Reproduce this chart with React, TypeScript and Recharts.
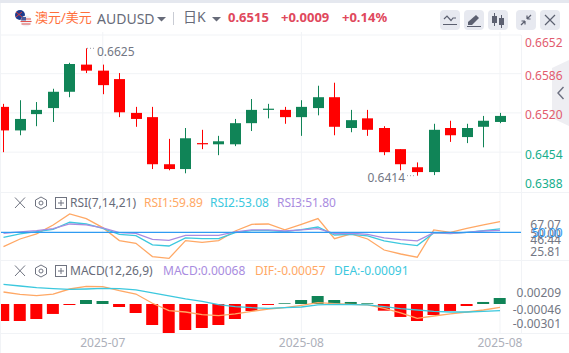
import { ComposedChart, Bar, Line, XAxis, YAxis, CartesianGrid, ReferenceLine, Cell } from "recharts";

const OPEN = [0.6528,0.6489,0.6516,0.6526,0.6553,0.6598,0.6588,0.6574,0.6518,0.6511,0.6433,0.6425,0.6468,0.6466,0.6466,0.6501,0.6523,0.6523,0.6511,0.6526,0.6544,0.6493,0.6509,0.6493,0.6458,0.6428,0.6420,0.6493,0.6478,0.6495,0.6503];
const CLOSE = [0.6489,0.6508,0.6523,0.6553,0.6599,0.6588,0.6564,0.6519,0.6508,0.6433,0.6425,0.6476,0.6466,0.6471,0.6501,0.6523,0.6525,0.6511,0.6528,0.6544,0.6495,0.6506,0.6490,0.6453,0.6433,0.6420,0.6490,0.6481,0.6493,0.6505,0.6513];
const HIGH = [0.6533,0.6539,0.6536,0.6558,0.6601,0.6625,0.6598,0.6584,0.6528,0.6528,0.6475,0.6493,0.6490,0.6480,0.6508,0.6541,0.6533,0.6528,0.6539,0.6563,0.6568,0.6523,0.6523,0.6496,0.6458,0.6436,0.6500,0.6505,0.6500,0.6513,0.6518];
const LOW = [0.6453,0.6481,0.6496,0.6503,0.6544,0.6584,0.6549,0.6511,0.6495,0.6425,0.6423,0.6418,0.6458,0.6448,0.6463,0.6488,0.6509,0.6500,0.6480,0.6514,0.6481,0.6486,0.6480,0.6448,0.6423,0.6414,0.6415,0.6470,0.6468,0.6461,0.6501];

const RSI1 = [36.7,43.8,48.5,56.8,67.07,62.7,54.3,42.3,39.8,27.5,25.81,42.3,40.7,42.3,51.2,57.4,57.7,52.2,57.4,62.7,44.1,48.5,43.8,33.6,29.9,26.9,52.2,50,53.7,56.8,59.89];
const RSI2 = [45.4,48.5,50.6,52.8,59.3,57.7,53.7,48.1,46.9,38.3,37.3,44.8,44.1,44.1,49.7,51.5,51.5,50.6,52.5,54.9,47.5,48.1,46.6,42,39.5,37.7,49.4,48.8,50,51.5,53.08];
const RSI3 = [49.1,50.3,51.5,53.4,57.7,56.8,54,49.7,49.1,43.5,42.6,47.2,47.2,47.2,50.3,52.2,52.2,51.2,52.2,53.4,48.8,49.1,48.1,44.8,43.2,42,49.7,49.1,50,51.2,51.8];

const DIF = [0.00136,0.0011,0.00095,0.00113,0.0017,0.002,0.00197,0.00151,0.00113,0.00008,-0.00076,-0.00091,-0.00121,-0.00132,-0.00113,-0.00083,-0.00057,-0.00042,-0.00015,0.00015,0.00004,-0.00004,-0.00011,-0.00049,-0.00102,-0.00163,-0.00136,-0.00113,-0.00091,-0.00068,-0.00038];
const DEA = [0.00223,0.00204,0.00185,0.00174,0.00166,0.0017,0.00178,0.00174,0.00159,0.00125,0.00091,0.00057,0.0003,-0.00008,-0.0003,-0.00042,-0.00049,-0.00042,-0.00034,-0.00011,-0.00004,-0.00008,-0.00011,-0.0003,-0.00053,-0.00068,-0.00083,-0.00091,-0.00091,-0.00083,-0.00076];
const MACD = [-0.00193,-0.00193,-0.0017,-0.00113,-0.00011,0.00045,0.00034,-0.00034,-0.00102,-0.00238,-0.00329,-0.00295,-0.00272,-0.00238,-0.0017,-0.00079,-0.00011,0.00008,0.00045,0.00091,0.00045,0.00023,0.00008,-0.00076,-0.00147,-0.00193,-0.00125,-0.00079,-0.00023,0.00023,0.00068];

const PRICE_TICKS = [0.6652,0.6586,0.652,0.6454,0.6388];
const PRICE_GRID = [0.6647,0.6583,0.6518,0.6453];
const RSI_TICKS = [67.07,50,46.44,25.81];
const MACD_TICKS = [0.00209,-0.00046,-0.00301];
const DATE_INDEX = [6,18,30];
const DATE_LABELS = ["2025-07","2025-08","2025-08"];

const PRICE_SHIFT = [10.5,4,3,2.6,-8];
const RSI_SHIFT = [11,1,3,-7];
const MACD_SHIFT = [7,1,-7];

const RED = "#ff0000";
const GREEN = "#108457";
const FONT = "'Noto Sans', 'Noto Sans CJK SC', sans-serif";
const GRID = "#f1f3f6";
const AXIS_TEXT = "#737784";
const ORANGE = "#ffa865";
const CYAN = "#3cc8de";
const PURPLE = "#a98ce0";
const LINE_W = 1.3;

const candles = OPEN.map((o, i) => ({ i, open: o, close: CLOSE[i], high: HIGH[i], low: LOW[i] }));
const rsiRows = RSI1.map((v, i) => ({ i, rsi1: v, rsi2: RSI2[i], rsi3: RSI3[i] }));
const macdRows = MACD.map((v, i) => ({ i, macd: v, dif: DIF[i], dea: DEA[i] }));

const X_DOMAIN: [number, number] = [-0.151, 31.27];
const maxHigh = Math.max(...HIGH);
const minLow = Math.min(...LOW);

// eslint-disable-next-line @typescript-eslint/no-explicit-any
function Candle({ x, y, width, height, payload }: any) {
  const { open, close, high, low } = payload;
  const k = height / (high - low);
  const cx = Math.round(x + width / 2 - 0.5);
  const top = y + (high - Math.max(open, close)) * k;
  const h = Math.max(1, Math.abs(open - close) * k);
  const color = close >= open ? GREEN : RED;
  return (
    <g>
      <rect x={cx} y={y} width={1} height={height} fill={color} />
      <rect x={cx - 5} y={top} width={11} height={h} fill={color} />
      {high === maxHigh && (
        <g>
          <line x1={cx + 1} x2={cx + 10} y1={y} y2={y} stroke="#9a9ca6" strokeDasharray="1 2" />
          <text x={cx + 11} y={y + 3} dominantBaseline="central" fontSize={12} fill={AXIS_TEXT} fontFamily={FONT}>{high.toFixed(4)}</text>
        </g>
      )}
      {low === minLow && (
        <g>
          <line x1={cx - 10} x2={cx - 1} y1={y + height} y2={y + height} stroke="#9a9ca6" strokeDasharray="1 2" />
          <text x={cx - 12} y={y + height + 2} textAnchor="end" dominantBaseline="central" fontSize={12} fill={AXIS_TEXT} fontFamily={FONT}>{low.toFixed(4)}</text>
        </g>
      )}
    </g>
  );
}

// eslint-disable-next-line @typescript-eslint/no-explicit-any
const axisTick = (shift: number[], fmt: (v: number) => string, color: (i: number) => string, right = false) => (props: any) => {
  const { y, payload, index } = props;
  return (
    <text x={right ? 560 : 524} y={y + shift[index]} textAnchor={right ? "end" : "start"} dominantBaseline="central" fontSize={12} fill={color(index)} fontFamily={FONT}>
      {fmt(payload.value)}
    </text>
  );
};

// eslint-disable-next-line @typescript-eslint/no-explicit-any
function DateTick({ x, y, payload }: any) {
  return (
    <text x={x} y={y + 1} textAnchor="middle" dominantBaseline="central" fontSize={12} fill="#adb0ba" fontFamily={FONT}>
      {DATE_LABELS[DATE_INDEX.indexOf(payload.value)]}
    </text>
  );
}

function PanelIcons({ top }: { top: number }) {
  const c = "#6f7380";
  return (
    <svg width={56} height={14} style={{ position: "absolute", left: 14, top }}>
      <path d="M1 1.5 L11 12 M11 1.5 L1 12" stroke={c} strokeWidth={1} fill="none" />
      <path d="M27 1 L32.5 4 L32.5 10 L27 13 L21.5 10 L21.5 4 Z" stroke={c} strokeWidth={1} fill="none" />
      <circle cx={27} cy={7} r={2} stroke={c} strokeWidth={1} fill="none" />
      <rect x={41.5} y={1.5} width={11} height={11} stroke={c} strokeWidth={1} fill="none" />
      <path d="M47 4 V10 M44 7 H50" stroke={c} strokeWidth={1} />
    </svg>
  );
}

function Label({ left, top, color, size = 12, weight = 400, children }: { left: number; top: number; color: string; size?: number; weight?: number; children: React.ReactNode }) {
  return (
    <span style={{ position: "absolute", left, top, color, fontSize: size, fontWeight: weight, fontFamily: FONT, lineHeight: "16px", whiteSpace: "nowrap" }}>
      {children}
    </span>
  );
}

function HeaderButton({ left, children }: { left: number; children: React.ReactNode }) {
  return (
    <div style={{ position: "absolute", left, top: 10, width: 20, height: 20, borderRadius: 4, background: "#e7e9f0" }}>
      <svg width={20} height={20}>{children}</svg>
    </div>
  );
}

function Rule({ left, top, width, height }: { left: number; top: number; width: number; height: number }) {
  return <div style={{ position: "absolute", left, top, width, height, background: GRID }} />;
}

export default function App() {
  const panel = { position: "absolute" as const, left: 1, width: 568, overflow: "hidden" };
  const gray = "#676b79";
  return (
    <div style={{ position: "absolute", left: 0, top: 0, width: 569, height: 353, background: "#fff", overflow: "hidden" }}>
      <div style={{ position: "absolute", left: 0, top: 0, width: 569, height: 3, background: "#e5e8ef" }} />
      <Rule left={0} top={3} width={1} height={350} />
      <Rule left={521} top={35} width={1} height={298} />
      <Rule left={0} top={192} width={569} height={1} />
      <Rule left={0} top={260} width={569} height={1} />
      <Rule left={0} top={333} width={569} height={1} />

      <svg width={20} height={20} style={{ position: "absolute", left: 14, top: 9 }}>
        <circle cx={6} cy={6} r={5} fill="#1d3c8f" />
        <path d="M2 3 L8 8 M8 3 L2 8" stroke="#d83a3a" strokeWidth={1} />
        <circle cx={12} cy={12} r={5.5} fill="#f0f0f4" />
        <path d="M7 10 H17 M6.5 12.5 H17.5 M7.5 15 H16.5" stroke="#e2534f" strokeWidth={1.2} />
        <path d="M8 8 H12 V11.5 H7 Z" fill="#4a5a9a" />
      </svg>
      <Label left={35} top={9} color="#ff6f3c" size={13}>澳元/美元</Label>
      <Label left={97} top={11} color={gray} size={14}>AUDUSD</Label>
      <svg width={10} height={6} style={{ position: "absolute", left: 157, top: 17 }}><path d="M0 0 H9 L4.5 4.5 Z" fill={gray} /></svg>
      <div style={{ position: "absolute", left: 173, top: 12, width: 1, height: 13, background: "#c9ccd4" }} />
      <Label left={183} top={9} color={gray} size={14}>日K</Label>
      <svg width={10} height={6} style={{ position: "absolute", left: 212, top: 17 }}><path d="M0 0 H9 L4.5 4.5 Z" fill={gray} /></svg>
      <Label left={228} top={9} color="#e0485c" size={13} weight={700}>0.6515</Label>
      <Label left={281} top={9} color="#e0485c" size={13} weight={700}>+0.0009</Label>
      <Label left={342} top={9} color="#e0485c" size={13} weight={700}>+0.14%</Label>

      <HeaderButton left={440}>
        <path d="M3 14.5 H17 M4 9 L7 6 L11 10.5 L13 8 H16" stroke="#5c6070" strokeWidth={1.2} fill="none" />
      </HeaderButton>
      <HeaderButton left={464}>
        <path d="M4 12 L12 5 L15 8 L8 15 H4 Z" fill="#5c6070" /><path d="M3 16.5 H17" stroke="#5c6070" />
      </HeaderButton>
      <HeaderButton left={488}>
        <path d="M6.5 3 V16 M13.5 5 V18" stroke="#5c6070" /><rect x={4} y={6} width={5} height={7} fill="#5c6070" /><rect x={11} y={8} width={5} height={7} fill="#5c6070" />
      </HeaderButton>
      <HeaderButton left={516}>
        <path d="M5 15 L9 11 M9 11 V14.5 M9 11 H5.5 M15 5 L11 9 M11 9 V5.5 M11 9 H14.5" stroke="#5c6070" strokeWidth={1.2} fill="none" />
      </HeaderButton>
      <HeaderButton left={540}>
        <path d="M5 5 L15 15 M15 5 L5 15" stroke="#5c6070" strokeWidth={1.2} />
      </HeaderButton>

      <svg width={17} height={70} style={{ position: "absolute", left: 552, top: 60 }}>
        <path d="M17 0 L0 8 V58 L17 66 Z" fill="#eeeef2" />
        <path d="M11.5 27 L6 33 L11.5 39" stroke="#6c7080" strokeWidth={1.4} fill="none" />
      </svg>

      <div style={{ ...panel, top: 32, height: 160 }}>
        <ComposedChart width={568} height={160} data={candles} margin={{ top: 0, right: 0, bottom: 0, left: 0 }}>
          <CartesianGrid stroke={GRID} horizontalValues={PRICE_GRID} verticalValues={DATE_INDEX} />
          <XAxis dataKey="i" type="number" domain={X_DOMAIN} ticks={DATE_INDEX} allowDataOverflow hide />
          <YAxis orientation="right" width={48} domain={[0.6387, 0.6652]} ticks={PRICE_TICKS} interval={0} allowDataOverflow axisLine={false} tickLine={false}
            tick={axisTick(PRICE_SHIFT, v => v.toFixed(4), i => (i < 3 ? "#e25b6e" : "#17ae8c"))} />
          <Bar dataKey={(d: any) => [d.low, d.high]} barSize={11} shape={Candle} isAnimationActive={false} />
        </ComposedChart>
      </div>

      <div style={{ ...panel, top: 193, height: 67 }}>
        <ComposedChart width={568} height={67} data={rsiRows} margin={{ top: 0, right: 0, bottom: 0, left: 0 }}>
          <CartesianGrid stroke={GRID} horizontal={false} verticalValues={DATE_INDEX} />
          <XAxis dataKey="i" type="number" domain={X_DOMAIN} ticks={DATE_INDEX} allowDataOverflow hide />
          <YAxis orientation="right" width={48} domain={[24.35, 86.39]} ticks={RSI_TICKS} interval={0} allowDataOverflow axisLine={false} tickLine={false}
            tick={axisTick(RSI_SHIFT, v => v.toFixed(2), () => AXIS_TEXT, true)} />
          <Line dataKey="rsi1" type="linear" stroke={ORANGE} strokeWidth={LINE_W} dot={false} isAnimationActive={false} />
          <Line dataKey="rsi2" type="linear" stroke={CYAN} strokeWidth={LINE_W} dot={false} isAnimationActive={false} />
          <Line dataKey="rsi3" type="linear" stroke={PURPLE} strokeWidth={LINE_W} dot={false} isAnimationActive={false} />
          <ReferenceLine y={50} stroke="#2f9bf2" strokeWidth={LINE_W} ifOverflow="visible" />
        </ComposedChart>
      </div>
      <Label left={532} top={225} color="#2f9bf2">50.00</Label>

      <div style={{ ...panel, top: 260, height: 93 }}>
        <ComposedChart width={568} height={93} data={macdRows} margin={{ top: 0, right: 0, bottom: 0, left: 0 }}>
          <CartesianGrid stroke={GRID} horizontal={false} verticalValues={DATE_INDEX} />
          <XAxis dataKey="i" type="number" domain={X_DOMAIN} ticks={DATE_INDEX} interval={0} height={20} allowDataOverflow axisLine={false} tickLine={false} tick={DateTick} />
          <YAxis orientation="right" width={48} domain={[-0.00329, 0.00499]} ticks={MACD_TICKS} interval={0} allowDataOverflow axisLine={false} tickLine={false}
            tick={axisTick(MACD_SHIFT, v => v.toFixed(5), () => AXIS_TEXT, true)} />
          <Bar dataKey="macd" barSize={12} isAnimationActive={false}>
            {MACD.map((v, i) => <Cell key={i} fill={v >= 0 ? GREEN : RED} />)}
          </Bar>
          <Line dataKey="dif" type="linear" stroke={ORANGE} strokeWidth={LINE_W} dot={false} isAnimationActive={false} />
          <Line dataKey="dea" type="linear" stroke={CYAN} strokeWidth={LINE_W} dot={false} isAnimationActive={false} />
        </ComposedChart>
      </div>

      <PanelIcons top={196} />
      <Label left={70} top={195} color={gray}>RSI(7,14,21)</Label>
      <Label left={144} top={195} color={ORANGE}>RSI1:59.89</Label>
      <Label left={210} top={195} color={CYAN}>RSI2:53.08</Label>
      <Label left={277} top={195} color={PURPLE}>RSI3:51.80</Label>

      <PanelIcons top={264} />
      <Label left={70} top={263} color={gray}>MACD(12,26,9)</Label>
      <Label left={163} top={263} color={PURPLE}>MACD:0.00068</Label>
      <Label left={255} top={263} color={ORANGE}>DIF:-0.00057</Label>
      <Label left={334} top={263} color={CYAN}>DEA:-0.00091</Label>
    </div>
  );
}
